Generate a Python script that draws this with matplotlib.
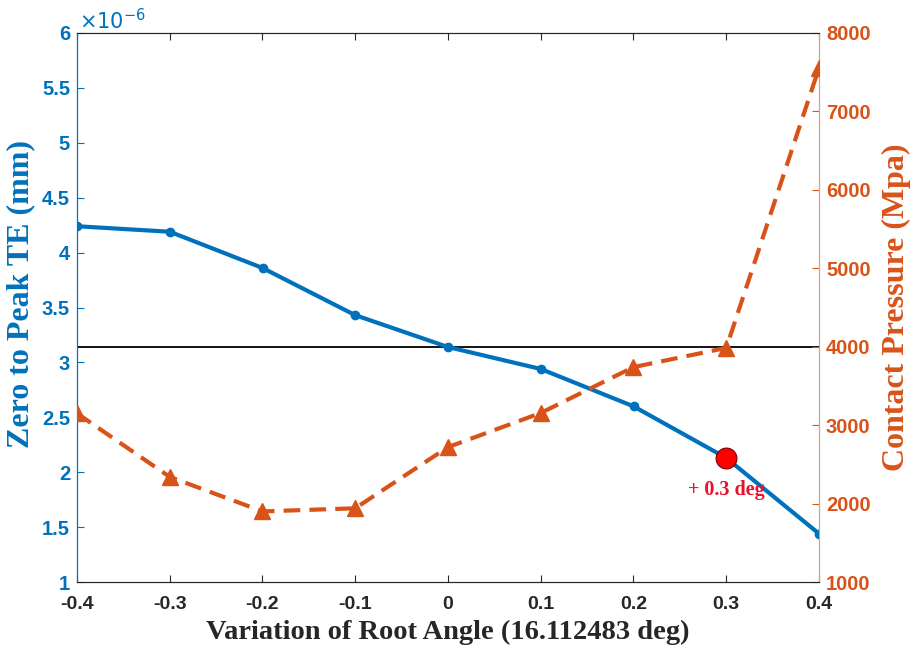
import numpy as np
import matplotlib.pyplot as plt

# root angle variation (deg)
angle = [-0.4, -0.3, -0.2, -0.1, 0.0, 0.1, 0.2, 0.3, 0.4]
# zero-to-peak transmission error (mm)
te = [4.24e-6, 4.19e-6, 3.86e-6, 3.43e-6, 3.14e-6, 2.94e-6, 2.60e-6, 2.13e-6, 1.44e-6]
# contact pressure (MPa)
pressure = [3150, 2340, 1900, 1940, 2720, 3155, 3740, 3985, 7555]

sel_angle = 0.3
sel_te = 2.13e-6
sel_label = "+ 0.3 deg"

blue = "#0072BD"
orange = "#D95319"
serif = "Liberation Serif"
sans = "Liberation Sans"

fig = plt.figure(figsize=(9.14, 6.53), dpi=100)
ax = fig.add_axes([77 / 914, 1 - 582 / 653, (819 - 77) / 914, (582 - 33) / 653])
ax2 = ax.twinx()

ax.plot(angle, te, "-o", color=blue, lw=3, ms=6, zorder=3)
ax.axhline(te[angle.index(0.0)], color="black", lw=1.3, zorder=2)
ax.plot(sel_angle, sel_te, "o", color="red", mec="#800000", mew=0.8, ms=15, zorder=5)
ax.text(sel_angle, sel_te - 0.29e-6, sel_label, color="#E8102A", fontsize=14.5,
        fontweight="bold", family=serif, ha="center", va="center", zorder=6)

ax2.plot(angle, pressure, "--^", color=orange, lw=3, ms=11, dashes=(4, 2.2), zorder=3)

ax.set_xlim(-0.4, 0.4)
ax.set_ylim(1e-6, 6e-6)
ax2.set_ylim(1000, 8000)
ax.set_xticks(np.arange(-0.4, 0.41, 0.1))
ax.set_xticklabels(["-0.4", "-0.3", "-0.2", "-0.1", "0", "0.1", "0.2", "0.3", "0.4"])
yt = np.arange(1, 6.01, 0.5)
ax.set_yticks(yt * 1e-6)
ax.set_yticklabels([f"{v:g}" for v in yt])
ax2.set_yticks(np.arange(1000, 8001, 1000))

for lab in ax.get_xticklabels():
    lab.set(color="#262626", family=sans, weight="bold", size=14)
for lab in ax.get_yticklabels():
    lab.set(color=blue, family=sans, weight="bold", size=14.5)
for lab in ax2.get_yticklabels():
    lab.set(color=orange, family=sans, weight="bold", size=14.5)

ax.tick_params(axis="x", direction="in", length=5, top=True, pad=10, color="#262626")
ax.tick_params(axis="y", direction="in", length=5, colors=blue, pad=5)
ax2.tick_params(axis="y", direction="in", length=5, colors=orange, pad=5)

for a in (ax, ax2):
    a.spines["top"].set_color("#262626")
    a.spines["bottom"].set_color("#262626")
    a.spines["left"].set_color(blue)
    a.spines["right"].set_color("#D9A27F")
    for s in a.spines.values():
        s.set_linewidth(0.8)

ax.text(0.003, 1.0, r"$\times10^{-6}$", transform=ax.transAxes, color=blue,
        fontsize=15, family=sans, ha="left", va="bottom")

ax.set_xlabel("Variation of Root Angle (16.112483 deg)", family=serif,
              fontweight="bold", fontsize=20.5, color="#262626", labelpad=5)
ax.set_ylabel("Zero to Peak TE (mm)", family=serif, fontweight="bold",
              fontsize=23, color=blue)
ax.yaxis.set_label_coords(-0.056, 0.525)
ax2.set_ylabel("Contact Pressure (Mpa)", family=serif, fontweight="bold",
               fontsize=23, color=orange, labelpad=8)

fig.savefig("out.png", dpi=100)
